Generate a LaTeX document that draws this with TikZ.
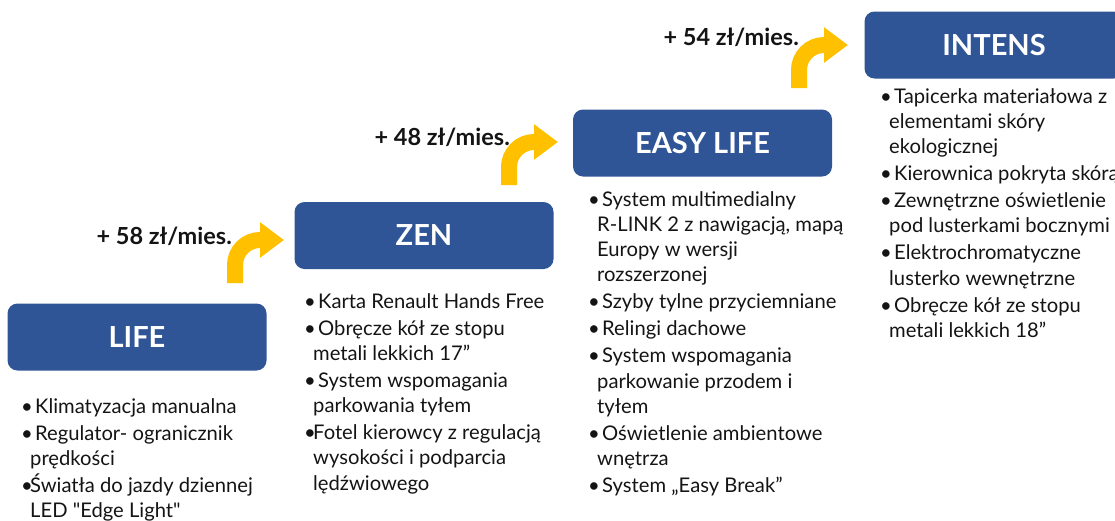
\documentclass[tikz,border=0pt]{standalone}
\usepackage{fontspec}
\setmainfont{Lato}[Ligatures=TeXOff]
\usepackage{tikz}
\usetikzlibrary{arrows.meta,positioning,calc}
\definecolor{renblue}{HTML}{2F5597}
\definecolor{rengold}{HTML}{FFC000}
\definecolor{ink}{HTML}{141414}
\newcommand{\bul}{\makebox[14pt][l]{\textbullet}}
\newcommand{\bnl}{\makebox[9pt][l]{\textbullet}}
\newcommand{\ind}{\hspace*{9pt}}
\tikzset{
    tier/.style={
           rectangle,
           rounded corners=10pt,
           fill=renblue,
           text=white,
           minimum width=259pt,
           minimum height=67pt,
           font=\fontsize{29}{33}\selectfont\bfseries,
           },
    gain/.style={
           -{Triangle[length=24pt,width=34pt]},
           line width=16pt,
           draw=rengold,
           rounded corners=25pt,
           to path={|- (\tikztotarget)},
           },
    price/.style={
           anchor=east,
           inner sep=0,
           text=ink,
           font=\fontsize{23.5}{27}\selectfont\bfseries,
           },
    feat/.style={
           anchor=north west,
           align=left,
           inner sep=0,
           text=ink,
           font=\fontsize{20.2}{25.3}\selectfont,
           }
}
\begin{document}
\begin{tikzpicture}[x=1pt,y=-1pt]
\useasboundingbox (0,0) rectangle (1115,520);
\node (b1) at (137,337) [tier] {LIFE};
\node (b2) at (424,235.5) [tier] {ZEN};
\node (b3) at (702.5,143) [tier] {EASY LIFE};
\node (b4) at (994,45) [tier] {INTENS};
\node (p1) at (232,236) [price] {+ 58 zł/mies.};
\node (p2) at (510,137) [price] {+ 48 zł/mies.};
\node (p3) at (799,37) [price] {+ 54 zł/mies.};
\coordinate (c1) at (235,283);
\coordinate (t1) at (284,240);
\coordinate (c2) at (509,185);
\coordinate (t2) at (558,142);
\coordinate (c3) at (799,88);
\coordinate (t3) at (848,45);
\path (c1) edge[gain] (t1);
\path (c2) edge[gain] (t2);
\path (c3) edge[gain] (t3);
\node (f1) at (21,398) [feat] {\bul Klimatyzacja manualna\\[1.7pt]
\bul Regulator- ogranicznik\\
\ind prędkości\\[1.7pt]
\bnl Światła do jazdy dziennej\\
\ind LED "Edge Light"};
\node (f2) at (304,293) [feat] {\bul Karta Renault Hands Free\\[1.7pt]
\bul Obręcze kół ze stopu\\
\ind metali lekkich 17”\\[1.7pt]
\bul System wspomagania\\
\ind parkowania tyłem\\[1.7pt]
\bnl Fotel kierowcy z regulacją\\
\ind wysokości i podparcia\\
\ind lędźwiowego};
\node (f3) at (588,191) [feat] {\bul System multimedialny\\
\ind R-LINK 2 z nawigacją, mapą\\
\ind Europy w wersji\\
\ind rozszerzonej\\[1.7pt]
\bul Szyby tylne przyciemniane\\[1.7pt]
\bul Relingi dachowe\\[1.7pt]
\bul System wspomagania\\
\ind parkowanie przodem i\\
\ind tyłem\\[1.7pt]
\bul Oświetlenie ambientowe\\
\ind wnętrza\\[1.7pt]
\bul System „Easy Break”};
\node (f4) at (880,88) [feat] {\bul Tapicerka materiałowa z\\
\ind elementami skóry\\
\ind ekologicznej\\[1.7pt]
\bul Kierownica pokryta skórą\\[1.7pt]
\bul Zewnętrzne oświetlenie\\
\ind pod lusterkami bocznymi\\[1.7pt]
\bul Elektrochromatyczne\\
\ind lusterko wewnętrzne\\[1.7pt]
\bul Obręcze kół ze stopu\\
\ind metali lekkich 18”};
\end{tikzpicture}
\end{document}
